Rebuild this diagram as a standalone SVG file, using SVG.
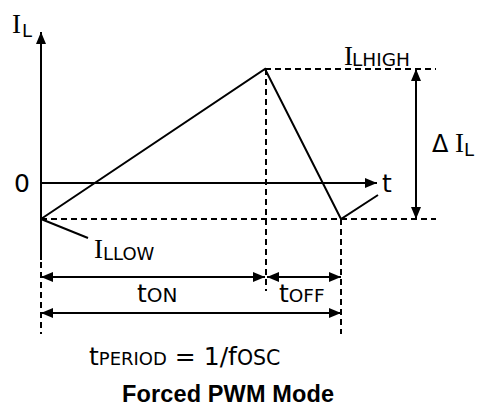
<svg xmlns="http://www.w3.org/2000/svg" width="477" height="407" viewBox="0 0 477 407">
<style>
.ln{stroke:#000;stroke-width:2;fill:none}
.ds{stroke:#000;stroke-width:2;fill:none;stroke-dasharray:6,4}
.tx{font-family:"DejaVu Sans","Liberation Sans",sans-serif;fill:#000}
.ser{font-family:"Liberation Serif","Times New Roman",serif;fill:#000}
.b{font-family:"Liberation Sans",Arial,sans-serif;font-weight:bold;fill:#000}
</style>
<defs>
<marker id="ah" viewBox="0 0 12 10" refX="12" refY="5" markerWidth="12" markerHeight="10" markerUnits="userSpaceOnUse" orient="auto-start-reverse">
<path d="M0,0 L12,5 L0,10 Z" fill="#000"/>
</marker>
</defs>
<g id="connectors">
<line class="ln" x1="41" y1="260" x2="41" y2="32" marker-end="url(#ah)"/>
<line class="ds" x1="41" y1="262" x2="41" y2="334"/>
<line class="ln" x1="41" y1="183" x2="377" y2="183" marker-end="url(#ah)"/>
<line class="ds" x1="41" y1="219" x2="436" y2="219"/>
<line class="ds" x1="265" y1="69" x2="436" y2="69"/>
<line class="ds" x1="266" y1="69" x2="266" y2="291"/>
<line class="ds" x1="341" y1="219" x2="341" y2="334"/>
<polyline class="ln" points="41,219 265,69 341,219 378,195"/>
<line class="ln" x1="41" y1="219" x2="88" y2="238"/>
<line class="ln" x1="416" y1="69" x2="416" y2="219" marker-start="url(#ah)" marker-end="url(#ah)"/>
<line class="ln" x1="41" y1="277" x2="265" y2="277" marker-start="url(#ah)" marker-end="url(#ah)"/>
<line class="ln" x1="267" y1="277" x2="341" y2="277" marker-start="url(#ah)" marker-end="url(#ah)"/>
<line class="ln" x1="41" y1="313" x2="341" y2="313" marker-start="url(#ah)" marker-end="url(#ah)"/>
</g>
<g id="label-IL">
<text class="ser" x="12" y="33" font-size="27">I</text>
<text class="tx" x="22" y="37" font-size="18">L</text>
</g>
<g id="label-zero"><text class="tx" x="14" y="192" font-size="25">0</text></g>
<g id="label-t"><text class="tx" x="382" y="192" font-size="25">t</text></g>
<g id="label-ILHIGH">
<text class="ser" x="344" y="65" font-size="27">I</text>
<text class="tx" x="352" y="66" font-size="18.5">LHIGH</text>
</g>
<g id="label-dIL">
<text class="tx" x="432" y="152" font-size="24">Δ</text>
<text class="ser" x="455" y="152" font-size="27">I</text>
<text class="tx" x="464" y="156" font-size="18">L</text>
</g>
<g id="label-ILLOW">
<text class="ser" x="94" y="258" font-size="27">I</text>
<text class="tx" x="103" y="260" font-size="18">LLOW</text>
</g>
<g id="label-ton">
<text class="tx" x="137" y="302" font-size="25">t<tspan font-size="20">ON</tspan></text>
</g>
<g id="label-toff">
<text class="tx" x="279" y="302" font-size="25">t<tspan font-size="18.5">OFF</tspan></text>
</g>
<g id="label-period">
<text class="tx" x="89" y="365" font-size="25">t<tspan font-size="18">PERIOD</tspan> = 1/f<tspan font-size="20.5">OSC</tspan></text>
</g>
<g id="title"><text class="b" x="122" y="402" font-size="23.5" textLength="212">Forced PWM Mode</text></g>
</svg>
